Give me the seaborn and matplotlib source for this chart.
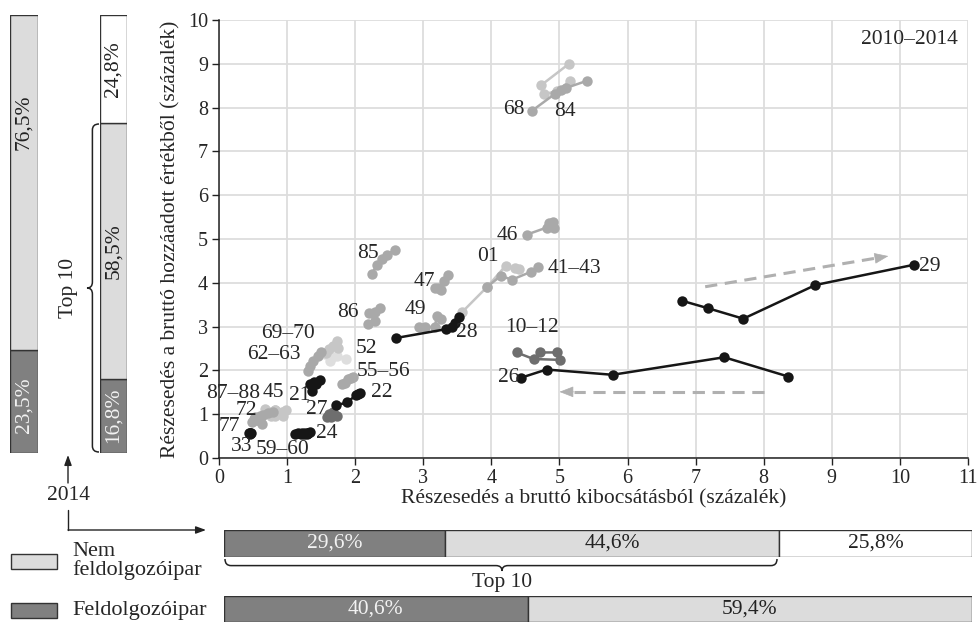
import numpy as np
import pandas as pd
import matplotlib
matplotlib.use('Agg')
import matplotlib.pyplot as plt
from matplotlib.path import Path
from matplotlib.patches import PathPatch, Rectangle
import seaborn as sns

# --- data: share of gross output (x) and gross value added (y), 2010-2014 ---
series_names = ['29', '26', '10–12', '28', '01', '41–43', '49', '47', '46', '68', '84',
                '85', '86', '33', '77', '72', '87–88', '45', '59–60', '24', '27', '22',
                '21', '55–56', '62–63', '69–70', '52']
series_x = [
    [6.80, 7.18, 7.70, 8.76, 10.20],
    [8.36, 7.42, 5.78, 4.81, 4.43],
    [4.37, 4.62, 5.01, 4.96, 4.72],
    [2.60, 3.33, 3.42, 3.47, 3.53],
    [3.57, 3.94, 4.21, 4.34, 4.41],
    [3.94, 4.14, 4.30, 4.58, 4.69],
    [2.93, 3.02, 3.17, 3.20, 3.26],
    [3.17, 3.22, 3.26, 3.30, 3.37],
    [4.52, 4.81, 4.92, 4.84, 4.91],
    [4.59, 4.93, 5.02, 5.10, 5.40],
    [5.14, 4.73, 4.77, 4.96, 5.15],
    [2.24, 2.32, 2.39, 2.46, 2.58],
    [2.19, 2.29, 2.21, 2.29, 2.37],
    [0.45, 0.46, 0.44, 0.47, 0.45],
    [0.48, 0.55, 0.63, 0.60, 0.52],
    [0.53, 0.60, 0.65, 0.72, 0.80],
    [0.68, 0.75, 0.82, 0.82, 0.76],
    [0.82, 0.88, 0.94, 0.98, 0.92],
    [1.12, 1.16, 1.20, 1.25, 1.22],
    [1.27, 1.30, 1.33, 1.31, 1.29],
    [1.58, 1.62, 1.68, 1.74, 1.65],
    [1.72, 1.88, 2.01, 2.04, 2.07],
    [1.37, 1.34, 1.39, 1.43, 1.48],
    [1.80, 1.85, 1.90, 1.94, 1.97],
    [1.30, 1.34, 1.38, 1.45, 1.50],
    [1.57, 1.61, 1.68, 1.73, 1.75],
    [1.56, 1.63, 1.66, 1.73, 1.86],
]
series_y = [
    [3.59, 3.42, 3.18, 3.95, 4.41],
    [1.86, 2.30, 1.90, 2.02, 1.83],
    [2.41, 2.26, 2.24, 2.41, 2.41],
    [2.74, 2.94, 3.00, 3.09, 3.22],
    [3.33, 3.91, 4.39, 4.33, 4.31],
    [3.91, 4.16, 4.07, 4.25, 4.36],
    [2.98, 2.98, 3.00, 3.24, 3.17],
    [3.87, 3.88, 3.84, 4.04, 4.18],
    [5.10, 5.26, 5.24, 5.37, 5.38],
    [7.92, 8.31, 8.41, 8.45, 8.61],
    [9.00, 8.51, 8.31, 8.37, 8.60],
    [4.20, 4.40, 4.54, 4.64, 4.75],
    [3.06, 3.12, 3.30, 3.34, 3.42],
    [0.55, 0.57, 0.56, 0.58, 0.56],
    [0.82, 0.86, 0.78, 0.84, 0.88],
    [0.93, 0.95, 0.98, 1.02, 1.06],
    [1.12, 1.04, 1.10, 0.97, 0.95],
    [1.10, 1.02, 0.97, 1.10, 1.06],
    [0.55, 0.57, 0.55, 0.54, 0.56],
    [0.56, 0.58, 0.59, 0.57, 0.55],
    [0.93, 1.00, 1.05, 0.97, 0.93],
    [1.20, 1.27, 1.43, 1.46, 1.49],
    [1.54, 1.69, 1.73, 1.70, 1.78],
    [1.69, 1.72, 1.80, 1.83, 1.85],
    [1.98, 2.11, 2.22, 2.33, 2.41],
    [2.40, 2.49, 2.55, 2.66, 2.52],
    [2.37, 2.22, 2.30, 2.33, 2.27],
]

# 2014 shares (percent)
va_total = [23.5, 76.5]            # feldolgozoipar, nem feldolgozoipar
va_top10 = [16.8, 58.5, 24.8]      # top10 manuf, top10 non-manuf, rest
out_top10 = [29.6, 44.6, 25.8]
out_total = [40.6, 59.4]

rows = []
for name, xs, ys in zip(series_names, series_x, series_y):
    for i, (x, y) in enumerate(zip(xs, ys)):
        rows.append({'ag': name, 'ev': 2010 + i, 'x': x, 'y': y})
df = pd.DataFrame(rows)

# --- styles ---
BLACK = '#161616'
DGRAY = '#6e6e6e'
MGRAY = '#a9a9a9'
LGRAY = '#c6c6c6'
VLGRAY = '#dedede'
BAR_DARK = '#808080'
BAR_LIGHT = '#dcdcdc'

shade = {n: MGRAY for n in series_names}
for n in ['29', '26', '28', '33', '59–60', '24', '22', '21']:
    shade[n] = BLACK
for n in ['10–12', '27']:
    shade[n] = DGRAY
for n in ['01', '84', '69–70', '87–88', '45']:
    shade[n] = LGRAY
shade['52'] = VLGRAY
rank = {VLGRAY: 0, LGRAY: 1, MGRAY: 2, DGRAY: 3, BLACK: 4}

sns.set_style('white')
plt.rcParams['font.family'] = ['Liberation Serif', 'DejaVu Serif']
FS = 15.5
TICK_FS = 14.5

W, H = 978, 623
fig = plt.figure(figsize=(W / 100, H / 100), dpi=100)


def box(x0, y0, x1, y1):
    return [x0 / W, 1 - y1 / H, (x1 - x0) / W, (y1 - y0) / H]


# --- main scatter/line chart ---
ax = fig.add_axes(box(219, 20, 968, 458))
for name in sorted(series_names, key=lambda n: rank[shade[n]]):
    sub = df[df['ag'] == name]
    sns.lineplot(data=sub, x='x', y='y', sort=False, estimator=None, color=shade[name],
                 marker='o', markersize=7.5, markeredgewidth=0, linewidth=1.8, ax=ax)

ax.set_xlim(0, 11)
ax.set_ylim(0, 10)
ax.set_xticks(range(0, 12))
ax.set_yticks(range(0, 11))
ax.grid(True, color='#dddddd', linewidth=1.3)
ax.set_axisbelow(True)
for s in ['top', 'right']:
    ax.spines[s].set_visible(False)
for s in ['left', 'bottom']:
    ax.spines[s].set_color('#222222')
    ax.spines[s].set_linewidth(1.1)
ax.tick_params(axis='both', direction='out', length=5, width=1, color='#222222',
               labelsize=TICK_FS, pad=3, left=True, bottom=True)
ax.set_xlabel('Részesedés a bruttó kibocsátásból (százalék)', fontsize=FS, labelpad=1)
ax.set_ylabel('Részesedés a bruttó hozzáadott értékből (százalék)', fontsize=15.5, labelpad=5)
ax.text(10.85, 9.56, '2010–2014', fontsize=FS, ha='right', va='center')

label_xy = {
    '68': (4.33, 7.96), '84': (5.08, 7.92), '46': (4.23, 5.09), '01': (3.95, 4.59),
    '41–43': (5.22, 4.32), '85': (2.19, 4.68), '47': (3.01, 4.04), '86': (1.89, 3.32),
    '49': (2.89, 3.39), '28': (3.64, 2.86), '10–12': (4.60, 2.99), '26': (4.26, 1.83),
    '29': (10.44, 4.38), '69–70': (1.02, 2.84), '62–63': (0.81, 2.37), '52': (2.17, 2.51),
    '55–56': (2.41, 1.98), '22': (2.39, 1.50), '21': (1.18, 1.42), '27': (1.44, 1.10),
    '87–88': (0.21, 1.47), '45': (0.80, 1.50), '72': (0.40, 1.08), '77': (0.15, 0.72),
    '33': (0.33, 0.26), '59–60': (0.93, 0.20), '24': (1.58, 0.55),
}
for name, (lx, ly) in label_xy.items():
    ax.text(lx, ly, name, fontsize=FS, ha='center', va='center', clip_on=False)

# dashed direction arrows
for (xa, ya), (xb, yb) in [((7.14, 3.91), (9.83, 4.61)), ((8.01, 1.51), (5.0, 1.51))]:
    t = 0.93
    xm, ym = xa + (xb - xa) * t, ya + (yb - ya) * t
    ax.plot([xa, xm], [ya, ym], color='#b0b0b0', lw=2.2, ls=(0, (4, 2.5)))
    ax.annotate('', xy=(xb, yb), xytext=(xm, ym),
                arrowprops=dict(arrowstyle='-|>,head_length=0.9,head_width=0.35',
                                color='#b0b0b0', lw=0.5, shrinkA=0, shrinkB=0))


# --- vertical stacked bars (value added, 2014) ---
def vbar(rect, vals, colors, txt, txt_col):
    b = fig.add_axes(box(*rect))
    bottom = 0
    for v, c in zip(vals, colors):
        b.bar([0], [v], bottom=bottom, width=1, color=c, edgecolor='#333333', linewidth=1)
        bottom += v
    b.set_xlim(-0.5, 0.5)
    b.set_ylim(0, 100)
    b.axis('off')
    for (pos, s), tc in zip(txt, txt_col):
        b.text(0, pos, s, rotation=90, ha='center', va='center', fontsize=FS, color=tc)
    return b


vbar((10, 15, 38, 453), va_total, [BAR_DARK, BAR_LIGHT],
     [(11, '23,5%'), (75.5, '76,5%')], ['#f2f2f2', '#222222'])
vbar((100, 15, 127, 453), va_top10, [BAR_DARK, BAR_LIGHT, 'white'],
     [(8.7, '16,8%'), (46, '58,5%'), (87.6, '24,8%')], ['#f2f2f2', '#222222', '#222222'])


# --- horizontal stacked bars (gross output, 2014) ---
def hbar(rect, vals, colors, txt_col):
    b = fig.add_axes(box(*rect))
    left = 0
    for v, c, tc in zip(vals, colors, txt_col):
        b.barh([0], [v], left=left, height=1, color=c, edgecolor='#333333', linewidth=1)
        b.text(left + v / 2, 0, f'{v:.1f}%'.replace('.', ','), ha='center', va='center',
               fontsize=FS, color=tc)
        left += v
    b.set_xlim(0, 100)
    b.set_ylim(-0.5, 0.5)
    b.axis('off')


hbar((224, 530, 972, 557), out_top10, [BAR_DARK, BAR_LIGHT, 'white'],
     ['#f2f2f2', '#222222', '#222222'])
hbar((224, 596, 972, 622), out_total, [BAR_DARK, BAR_LIGHT], ['#f2f2f2', '#222222'])

# --- overlay: braces, arrows, legend ---
ov = fig.add_axes([0, 0, 1, 1], facecolor='none')
ov.set_xlim(0, W)
ov.set_ylim(H, 0)
ov.axis('off')


def hbrace(x0, x1, y0, depth, tip):
    r = 6
    ym, yb = y0 + depth * 0.55, y0 + depth
    verts = [(x0, y0), (x0, ym), (x0 + r, ym), (tip - r, ym), (tip, ym), (tip, yb),
             (tip, ym), (tip + r, ym), (x1 - r, ym), (x1, ym), (x1, y0)]
    codes = [Path.MOVETO, Path.CURVE3, Path.CURVE3, Path.LINETO, Path.CURVE3, Path.CURVE3,
             Path.CURVE3, Path.CURVE3, Path.LINETO, Path.CURVE3, Path.CURVE3]
    ov.add_patch(PathPatch(Path(verts, codes), fill=False, lw=1.1, ec='#222222'))


def vbrace(y0, y1, x0, depth, tip):
    r = 6
    xm, xb = x0 - depth * 0.55, x0 - depth
    verts = [(x0, y0), (xm, y0), (xm, y0 + r), (xm, tip - r), (xm, tip), (xb, tip),
             (xm, tip), (xm, tip + r), (xm, y1 - r), (xm, y1), (x0, y1)]
    codes = [Path.MOVETO, Path.CURVE3, Path.CURVE3, Path.LINETO, Path.CURVE3, Path.CURVE3,
             Path.CURVE3, Path.CURVE3, Path.LINETO, Path.CURVE3, Path.CURVE3]
    ov.add_patch(PathPatch(Path(verts, codes), fill=False, lw=1.1, ec='#222222'))


hbrace(225, 777, 559, 12, 502)
ov.text(502, 583, 'Top 10', fontsize=FS, ha='center', va='center')
vbrace(124, 452, 99, 12, 288)
ov.text(68, 288, 'Top 10', fontsize=FS, ha='center', va='center', rotation=90)

ov.annotate('', xy=(68, 455), xytext=(68, 483),
            arrowprops=dict(arrowstyle='-|>,head_length=0.6,head_width=0.22', color='#222222',
                            lw=1, shrinkA=0, shrinkB=0))
ov.text(68, 496, '2014', fontsize=FS, ha='center', va='center')
ov.plot([68, 68], [510, 530], color='#222222', lw=1)
ov.annotate('', xy=(206, 530), xytext=(68, 530),
            arrowprops=dict(arrowstyle='-|>,head_length=0.6,head_width=0.22', color='#222222',
                            lw=1, shrinkA=0, shrinkB=0))

ov.add_patch(Rectangle((11, 554), 46, 15, fc=BAR_LIGHT, ec='#333333', lw=1))
ov.add_patch(Rectangle((11, 603), 46, 15, fc=BAR_DARK, ec='#333333', lw=1))
ov.text(72, 561, 'Nem\nfeldolgozóipar', fontsize=16, ha='left', va='center', linespacing=0.95)
ov.text(72, 611, 'Feldolgozóipar', fontsize=16, ha='left', va='center')

fig.savefig('out.png', dpi=100)
